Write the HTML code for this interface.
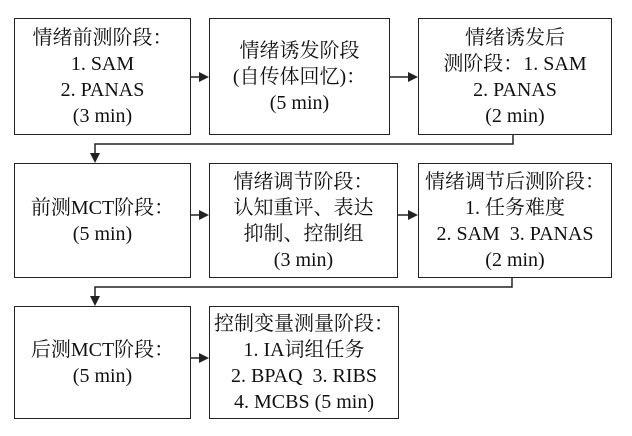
<!DOCTYPE html>
<html><head><meta charset="utf-8"><style>
body{margin:0;background:#fff;width:632px;height:436px;overflow:hidden;position:relative;color:#111}
.b{position:absolute;border:1.5px solid #222;box-sizing:border-box;display:flex;flex-direction:column;justify-content:center;align-items:center;text-align:center;font-size:20px;line-height:26px;font-family:'Liberation Serif','Times New Roman','Noto Serif CJK SC',serif;white-space:nowrap}
svg{position:absolute;left:0;top:0}
</style></head><body>
<div class="b" style="left:14px;top:18px;width:177px;height:117px">情绪前测阶段：<br>1. SAM<br>2. PANAS<br>(3 min)</div>
<div class="b" style="left:209px;top:18px;width:181px;height:117px">情绪诱发阶段<br>(自传体回忆)：<br>(5 min)</div>
<div class="b" style="left:418px;top:18px;width:194px;height:117px">情绪诱发后<br>测阶段：1. SAM<br>2. PANAS<br>(2 min)</div>
<div class="b" style="left:14px;top:163px;width:177px;height:115px">前测MCT阶段：<br>(5 min)</div>
<div class="b" style="left:209px;top:163px;width:189px;height:115px">情绪调节阶段：<br>认知重评、表达<br>抑制、控制组<br>(3 min)</div>
<div class="b" style="left:418px;top:163px;width:194px;height:115px">情绪调节后测阶段：<br>1. 任务难度<br>2. SAM&nbsp; 3. PANAS<br>(2 min)</div>
<div class="b" style="left:14px;top:306px;width:177px;height:113px">后测MCT阶段：<br>(5 min)</div>
<div class="b" style="left:209px;top:306px;width:190px;height:113px">控制变量测量阶段：<br>1. IA词组任务<br>2. BPAQ&nbsp; 3. RIBS<br>4. MCBS (5 min)</div>
<svg width="632" height="436"><g stroke="#222" stroke-width="1.5" fill="none">
<path d="M191 77H200M390 77H409M191 215H200M398 215H409M191 358H200"/>
<path d="M513 135V144H95V154M512 278V287H95V297"/></g>
<g fill="#222">
<path d="M209 77l-10-5v10z"/><path d="M418 77l-10-5v10z"/><path d="M209 215l-10-5v10z"/><path d="M418 215l-10-5v10z"/><path d="M209 358l-10-5v10z"/>
<path d="M95 163l-5-10h10z"/><path d="M95 306l-5-10h10z"/></g></svg>
</body></html>
